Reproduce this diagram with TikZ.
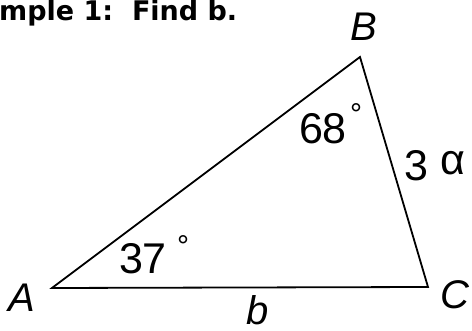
\documentclass[tikz,border=0pt]{standalone}
\usepackage{fontspec}
\setmainfont{Liberation Sans}
\newfontfamily\titlefont{DejaVu Sans}
\usetikzlibrary{positioning}

\tikzset{
  side/.style={line width=1.8pt, line join=miter},
  vlabel/.style={inner sep=0pt, font=\fontsize{40}{40}\selectfont\itshape},
  numlabel/.style={inner sep=0pt, font=\fontsize{43}{43}\selectfont},
  degmark/.style={inner sep=0pt, font=\fontsize{30}{30}\selectfont},
}

\begin{document}
\begin{tikzpicture}[x=1pt, y=-1pt]
  \useasboundingbox (0,0) rectangle (472,331);
  \fill[white] (0,0) rectangle (472,331);

  % title
  \node[inner sep=0pt, anchor=base west, font=\titlefont\fontsize{27}{27}\selectfont\bfseries]
    (title) at (-1,21) {mple 1:\ \ Find b.};

  % vertices
  \coordinate (A) at (52,288);
  \coordinate (B) at (360,57);
  \coordinate (C) at (428,287);
  \draw[side] (A) -- (B) -- (C) -- cycle;

  % vertex labels
  \node[vlabel] (labA) at (22,298) {A};
  \node[vlabel] (labB) at (364,27) {B};
  \node[vlabel] (labC) at (455,295) {C};
  \node[vlabel] (labb) at (258,310) {b};

  % angles
  \node[numlabel] (angA) at (143,259) {37};
  \node[degmark] (degA) at (183,246) {°};
  \node[numlabel] (angB) at (323,129) {68};
  \node[degmark] (degB) at (356,114) {°};

  % side BC
  \node[numlabel] (sideBC) at (416,166) {3};
  \node[numlabel] (sideBCa) at (453,163) {α};
\end{tikzpicture}
\end{document}
